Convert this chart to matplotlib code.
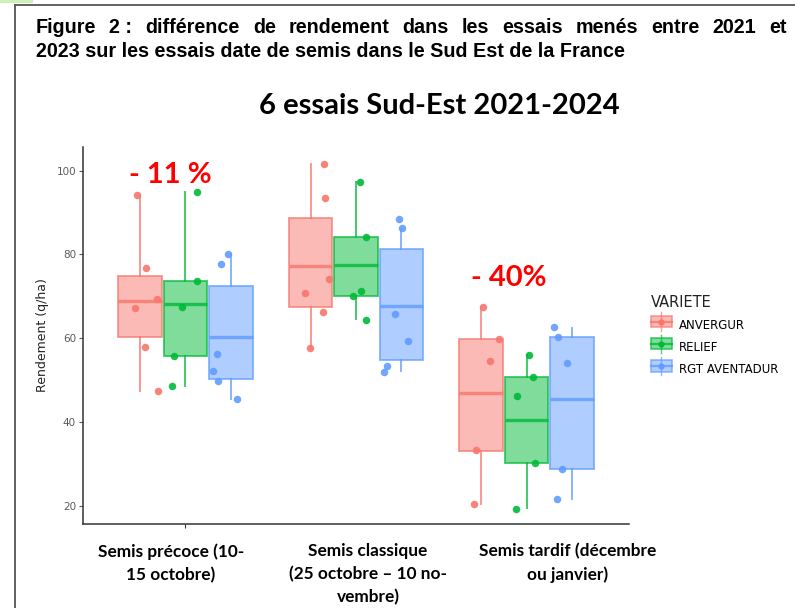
import matplotlib
matplotlib.use("Agg")
import matplotlib.pyplot as plt
from matplotlib.patches import Rectangle
from matplotlib.lines import Line2D
from matplotlib.legend_handler import HandlerBase

# categories / varieties
groups = ["Semis précoce (10-\n15 octobre)",
          "Semis classique\n(25 octobre – 10 no-\nvembre)",
          "Semis tardif (décembre\nou janvier)"]
varieties = ["ANVERGUR", "RELIEF", "RGT AVENTADUR"]
colors = ["#F8766D", "#00BA38", "#619CFF"]

# box statistics (one value per sowing date)
anv_q1 = [60.2, 67.5, 33.1]
anv_med = [68.9, 77.3, 47.0]
anv_q3 = [74.9, 88.8, 59.7]
anv_lo = [47.5, 57.7, 20.3]
anv_hi = [94.2, 101.5, 67.5]

rel_q1 = [55.8, 70.0, 30.2]
rel_med = [68.2, 77.4, 40.5]
rel_q3 = [73.6, 84.2, 50.8]
rel_lo = [48.7, 64.5, 19.5]
rel_hi = [95.0, 97.2, 55.9]

rgt_q1 = [50.3, 54.8, 28.8]
rgt_med = [60.3, 67.6, 45.6]
rgt_q3 = [72.4, 81.2, 60.3]
rgt_lo = [45.4, 52.1, 21.7]
rgt_hi = [80.1, 85.8, 62.5]

# individual trial yields
anv_pts = [[94.2, 76.8, 69.4, 67.1, 57.9, 47.5],
           [101.6, 93.6, 74.1, 70.8, 66.2, 57.7],
           [67.5, 59.7, 54.5, 33.2, 20.3]]
rel_pts = [[95.0, 73.6, 67.5, 55.8, 48.7],
           [97.2, 84.2, 71.3, 70.0, 64.4],
           [55.9, 50.8, 46.2, 30.2, 19.3]]
rgt_pts = [[80.1, 77.7, 56.3, 52.1, 49.7, 45.4],
           [88.4, 86.3, 65.8, 59.3, 53.3, 52.0],
           [62.7, 60.4, 54.1, 28.7, 21.6]]

# horizontal jitter of the points (as drawn)
anv_jit = [[-0.019, 0.033, 0.098, -0.027, 0.031, 0.107],
           [0.079, 0.087, 0.110, -0.032, 0.071, -0.001],
           [0.008, 0.105, 0.053, -0.031, -0.045]]
rel_jit = [[0.067, 0.071, -0.020, -0.065, -0.077],
           [0.026, 0.056, 0.032, -0.016, 0.061],
           [0.011, 0.040, -0.054, 0.051, -0.063]]
rgt_jit = [[-0.018, -0.058, -0.082, -0.105, -0.076, 0.039],
           [-0.016, 0.001, -0.036, 0.038, -0.087, -0.101],
           [-0.104, -0.082, -0.031, -0.058, -0.089]]

stats = [(anv_q1, anv_med, anv_q3, anv_lo, anv_hi),
         (rel_q1, rel_med, rel_q3, rel_lo, rel_hi),
         (rgt_q1, rgt_med, rgt_q3, rgt_lo, rgt_hi)]
points = [anv_pts, rel_pts, rgt_pts]
jitters = [anv_jit, rel_jit, rgt_jit]

reductions = ["- 11 %", "", "- 40%"]

BOLD_CAL = ["Lato", "DejaVu Sans"]

W, H = 795, 608
fig = plt.figure(figsize=(W / 100, H / 100), dpi=100)
ax = fig.add_axes([83 / W, 84 / H, 546 / W, 377 / H])

dodge = 0.266
width = 0.255
for j, (st, pts, jit, col) in enumerate(zip(stats, points, jitters, colors)):
    q1, med, q3, lo, hi = st
    bx = []
    pos = []
    for i in range(len(groups)):
        bx.append(dict(q1=q1[i], med=med[i], q3=q3[i], whislo=lo[i], whishi=hi[i], fliers=[]))
        pos.append(i + 1 + (j - 1) * dodge)
    ax.bxp(bx, positions=pos, widths=width, patch_artist=True, showcaps=False,
           boxprops=dict(facecolor=col, alpha=0.5, edgecolor="none"),
           whiskerprops=dict(color=col, alpha=0.75, lw=1.4),
           medianprops=dict(color=col, alpha=0.8, lw=2.4, solid_capstyle="butt"),
           zorder=2)
    # separate outline so it is not washed out by the fill alpha
    ax.bxp(bx, positions=pos, widths=width, patch_artist=True, showcaps=False,
           boxprops=dict(facecolor="none", edgecolor=col, alpha=0.7, lw=1.4),
           whiskerprops=dict(lw=0), medianprops=dict(lw=0), zorder=3)
    for i in range(len(groups)):
        xs = [pos[i] + d for d in jit[i]]
        ax.plot(xs, pts[i], "o", color=col, ms=5.4, mec="none", alpha=0.9, zorder=4)

for i, lab in enumerate(reductions):
    if lab:
        ax.text(i + 1 - 0.09 if i == 0 else i + 1 - 0.105, 98.9 if i == 0 else 74.4, lab,
                color="#FF0000", fontsize=21, fontweight="bold", family=BOLD_CAL,
                ha="center", va="center")

ax.set_xlim(0.4, 3.6)
ax.set_ylim(15.63, 105.66)
ax.set_yticks([20, 40, 60, 80, 100])
ax.set_xticks([1])
ax.set_xticklabels([""])
ax.tick_params(axis="y", colors="#5a5a5a", labelsize=7.5, length=3, width=0.8, pad=2)
ax.tick_params(axis="x", colors="#333333", length=3, width=0.8)
for s in ["top", "right"]:
    ax.spines[s].set_visible(False)
for s in ["left", "bottom"]:
    ax.spines[s].set_color("#333333")
    ax.spines[s].set_linewidth(1.1)
ax.set_ylabel("Rendement (q/ha)", fontsize=9, color="#222222", labelpad=5)

# x category labels (text boxes placed under the panel)
label_x = [171, 368, 568]
for x, g in zip(label_x, groups):
    fig.text(x / W, 1 - 543 / H, g, ha="center", va="top", fontsize=12.4,
             fontweight="bold", family=BOLD_CAL, linespacing=1.52)


# legend with small boxplot keys
class BoxKey(HandlerBase):
    def create_artists(self, legend, orig, xd, yd, w, h, fontsize, trans):
        col = orig.get_color()
        r = Rectangle((xd, yd), w, h, facecolor=col, alpha=0.5,
                      edgecolor="none", transform=trans)
        e = Rectangle((xd, yd), w, h, facecolor="none",
                      edgecolor=col, alpha=0.7, lw=1.2, transform=trans)
        m = Line2D([xd, xd + w], [yd + h / 2] * 2, color=col, lw=1.6, alpha=0.8, transform=trans)
        v = Line2D([xd + w / 2] * 2, [yd - h * 0.3, yd + h * 1.3], color=col, lw=1,
                   alpha=0.7, transform=trans)
        d = Line2D([xd + w / 2], [yd + h / 2], marker="o", ms=4.5, color=col, mec="none",
                   transform=trans)
        return [r, e, m, v, d]


handles = [Line2D([], [], color=c) for c in colors]
leg = fig.legend(handles, varieties, handler_map={Line2D: BoxKey()},
                 loc="upper left", bbox_to_anchor=(640 / W, 1 - 284 / H),
                 frameon=False, title="VARIETE", fontsize=8.5, title_fontsize=10.5,
                 handlelength=1.8, handleheight=1.1, handletextpad=0.6,
                 labelspacing=0.78, alignment="left")
leg.get_title().set_color("#222222")

# chart title
fig.text(439 / W, 1 - 106 / H, "6 essais Sud-Est 2021-2024", ha="center", va="center",
         fontsize=21, fontweight="bold", family=BOLD_CAL)

# page frame
fig.add_artist(Line2D([15 / W, 15 / W], [0, 1 - 5 / H], color="#555555", lw=1.3))
fig.add_artist(Line2D([15 / W, 1], [1 - 5 / H, 1 - 5 / H], color="#555555", lw=1.3))
fig.add_artist(Rectangle((0, 1 - 3 / H), 33 / W, 3 / H, color="#ccf2b8", lw=0))

# caption, first line justified
cap1 = ["Figure", "2 :", "différence", "de", "rendement", "dans", "les", "essais",
        "menés", "entre", "2021", "et"]
cap2 = "2023 sur les essais date de semis dans le Sud Est de la France"
cap_font = dict(fontsize=14.2, fontweight="bold", family=["Liberation Sans", "DejaVu Sans"])
fig.canvas.draw()
rend = fig.canvas.get_renderer()
wt = [fig.text(0, 1 - 33 / H, w, va="baseline", ha="left", **cap_font) for w in cap1]
ww = [t.get_window_extent(rend).width for t in wt]
x0, x1 = 36, 787
gap = (x1 - x0 - sum(ww)) / (len(cap1) - 1)
x = x0
for t, w in zip(wt, ww):
    t.set_x(x / W)
    x += w + gap
fig.text(x0 / W, 1 - 57 / H, cap2, va="baseline", ha="left", **cap_font)

fig.savefig("out.png", dpi=100)
